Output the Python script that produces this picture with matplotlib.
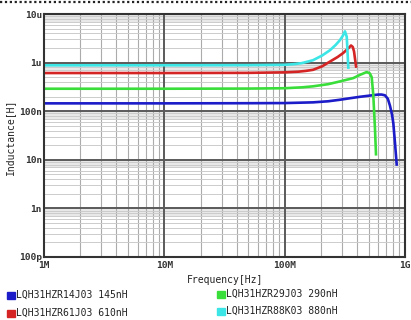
import matplotlib
matplotlib.use("Agg")
import matplotlib.pyplot as plt
from matplotlib.lines import Line2D
from matplotlib.patches import Rectangle
import numpy as np

# ---- data ----
blue_f = [1e6, 10e6, 50e6, 100e6, 172e6, 230e6, 288e6, 350e6, 423e6, 530e6, 600e6, 640e6, 682e6, 720e6, 750e6, 780e6, 800e6, 826e6, 853e6]
blue_L = [145e-9, 145e-9, 146e-9, 147e-9, 152e-9, 160e-9, 172e-9, 185e-9, 198e-9, 212e-9, 220e-9, 220e-9, 212e-9, 180e-9, 130e-9, 85e-9, 56e-9, 22e-9, 8e-9]

green_f = [1e6, 10e6, 50e6, 100e6, 140e6, 172e6, 230e6, 288e6, 372e6, 423e6, 481e6, 510e6, 529e6, 545e6, 563e6, 574e6]
green_L = [290e-9, 290e-9, 292e-9, 297e-9, 310e-9, 325e-9, 360e-9, 410e-9, 480e-9, 560e-9, 640e-9, 600e-9, 500e-9, 215e-9, 44e-9, 13e-9]

red_f = [1e6, 10e6, 50e6, 100e6, 130e6, 150e6, 172e6, 205e6, 238e6, 275e6, 307e6, 340e6, 356e6, 368e6, 377e6, 392e6]
red_L = [610e-9, 610e-9, 615e-9, 630e-9, 650e-9, 675e-9, 710e-9, 840e-9, 1.05e-6, 1.3e-6, 1.58e-6, 2.0e-6, 2.25e-6, 2.1e-6, 1.7e-6, 0.83e-6]

cyan_f = [1e6, 10e6, 50e6, 100e6, 120e6, 140e6, 172e6, 205e6, 238e6, 265e6, 288e6, 305e6, 317e6, 328e6, 338e6]
cyan_L = [880e-9, 880e-9, 885e-9, 900e-9, 930e-9, 980e-9, 1.12e-6, 1.4e-6, 1.8e-6, 2.3e-6, 2.9e-6, 3.6e-6, 4.4e-6, 3.4e-6, 0.79e-6]

labels = ["LQH31HZR14J03 145nH", "LQH31HZR61J03 610nH",
          "LQH31HZR29J03 290nH", "LQH31HZR88K03 880nH"]
colors = {"blue": "#1c1cc8", "red": "#d42424", "green": "#3ade3a", "cyan": "#3ce6e6"}

xticks = [1e6, 1e7, 1e8, 1e9]
xticklabels = ["1M", "10M", "100M", "1G"]
yticks = [1e-10, 1e-9, 1e-8, 1e-7, 1e-6, 1e-5]
yticklabels = ["100p", "1n", "10n", "100n", "1u", "10u"]

fig = plt.figure(figsize=(4.11, 3.20), dpi=100)
ax = fig.add_axes([44/411, 63/320, 361/411, 243/320])
ax.set_xscale("log")
ax.set_yscale("log")
ax.set_xlim(1e6, 1e9)
ax.set_ylim(1e-10, 1e-5)

# gray bands below each decade line
for d in yticks[1:]:
    ax.axhspan(d*0.7, d, color="#e8e8e8", lw=0, zorder=0)

# grid
for d in [1e6, 1e7, 1e8]:
    for m in range(2, 10):
        ax.axvline(d*m, color="#ababab", lw=0.8, zorder=1)
for d in yticks[:-1]:
    for m in range(2, 10):
        ax.axhline(d*m, color="#cccccc", lw=0.7, zorder=1)
for x in xticks[1:-1]:
    ax.axvline(x, color="#5a5a5a", lw=1.4, zorder=1.5)
for y in yticks[1:-1]:
    ax.axhline(y, color="#5a5a5a", lw=1.4, zorder=1.5)

ax.plot(blue_f, blue_L, color=colors["blue"], lw=1.9, zorder=3, solid_joinstyle="round")
ax.plot(green_f, green_L, color=colors["green"], lw=1.9, zorder=3, solid_joinstyle="round")
ax.plot(red_f, red_L, color=colors["red"], lw=1.9, zorder=3, solid_joinstyle="round")
ax.plot(cyan_f, cyan_L, color=colors["cyan"], lw=1.9, zorder=3, solid_joinstyle="round")

for s in ax.spines.values():
    s.set_color("#333333")
    s.set_linewidth(1.5)
    s.set_zorder(4)

tfont = dict(family="DejaVu Sans Mono", size=6.8, weight="bold", color="#333333")
ax.set_xticks(xticks)
ax.set_xticklabels(xticklabels, **tfont)
ax.set_yticks(yticks)
ax.set_yticklabels(yticklabels, **tfont)
ax.minorticks_off()
ax.tick_params(length=0, pad=1.5)
ax.tick_params(axis="x", pad=3)

lfont = dict(family="DejaVu Sans Mono", size=7, color="#222222")
fig.text(225/411, 1 - 280/320, "Frequency[Hz]", ha="center", va="center", **lfont)
fig.text(10/411, 1 - 137/320, "Inductance[H]", ha="center", va="center", rotation=90, **lfont)

# legend
leg = [(7, 295, colors["blue"], labels[0]), (7, 313, colors["red"], labels[1]),
       (217, 294, colors["green"], labels[2]), (217, 311, colors["cyan"], labels[3])]
for x, y, c, t in leg:
    fig.add_artist(Rectangle((x/411, 1 - (y+3.5)/320), 8/411, 7/320, color=c,
                             transform=fig.transFigure))
    fig.text((x+9)/411, 1 - y/320, t, ha="left", va="center", **lfont)

# dotted top border
fig.add_artist(Line2D([0, 1], [1 - 2/320, 1 - 2/320], color="#222222", lw=1.6,
                      ls=(0, (1, 1.2)), transform=fig.transFigure))

fig.savefig("out.png", dpi=100)
